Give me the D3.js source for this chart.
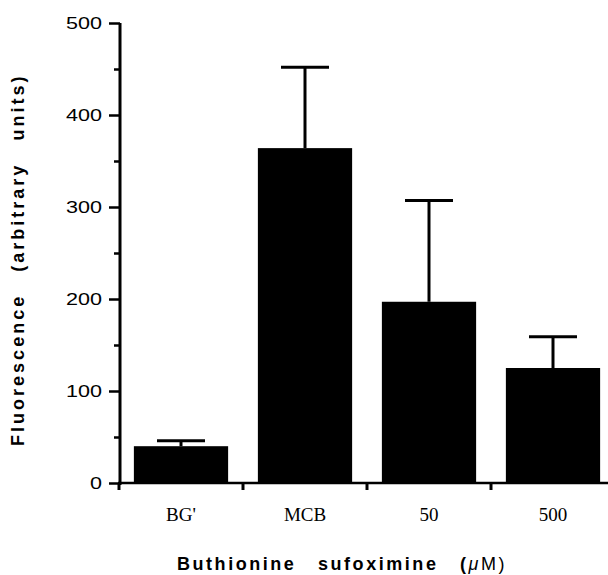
<!DOCTYPE html>
<html lang="en">
<head>
    <meta charset="UTF-8">
    <title>Fluorescence vs BSO</title>
    <style>
        body { margin: 0; background: #fff; }
        .ytick text { font-family: 'Liberation Sans', Arial, sans-serif; font-size: 17px; fill: #000; }
        .xtick text { font-family: 'Liberation Serif', 'Times New Roman', serif; font-size: 19px; fill: #000; }
        .title { font-family: 'Liberation Sans', Arial, sans-serif; font-weight: bold; font-size: 18px; fill: #000; word-spacing: 14px; letter-spacing: 0.5px; }
    </style>
</head>
<body>
<script src="https://d3js.org/d3.v7.min.js"></script>
<script>

    const width = 608;
    const height = 575;

    const categories = ['BG\'', 'MCB', '50', '500'];
    const means = [40, 364, 197, 125];
    const errors = [6, 88, 110, 34];
    const yTicks = [0, 100, 200, 300, 400, 500];
    const yMinor = [50, 150, 250, 350, 450];

    let svg = d3.select('body').append('svg')
        .attr('width', width)
        .attr('height', height);

    let x = d3.scaleBand()
        .domain(categories)
        .range([119, 615])
        .paddingInner(0.24)
        .paddingOuter(0.12);

    let y = d3.scaleLinear()
        .domain([0, 500])
        .range([483, 23]);

    // bars
    svg.selectAll('.bar')
        .data(categories)
        .enter().append('rect')
        .attr('class', 'bar')
        .attr('x', function(d) { return x(d); })
        .attr('y', function(d, i) { return y(means[i]); })
        .attr('width', x.bandwidth())
        .attr('height', function(d, i) { return y(0) - y(means[i]); })
        .style('fill', '#000');

    // error bars (upper only)
    let capW = 48;
    categories.forEach(function(c, i) {
        let cx = x(c) + x.bandwidth() / 2;
        svg.append('line')
            .attr('x1', cx).attr('x2', cx)
            .attr('y1', y(means[i])).attr('y2', y(means[i] + errors[i]))
            .style('stroke', '#000').style('stroke-width', 3);
        svg.append('line')
            .attr('x1', cx - capW / 2).attr('x2', cx + capW / 2)
            .attr('y1', y(means[i] + errors[i])).attr('y2', y(means[i] + errors[i]))
            .style('stroke', '#000').style('stroke-width', 3);
    });

    // y axis
    let yAxis = svg.append('g')
        .attr('class', 'ytick')
        .attr('transform', 'translate(120,0)')
        .call(d3.axisLeft(y).tickValues(yTicks).tickSize(11).tickPadding(7).tickFormat(d3.format('d')));
    yAxis.select('.domain').attr('d', 'M0,' + (y(500)) + 'V' + (y(0) + 2)).style('stroke-width', 3);
    yAxis.selectAll('.tick line').style('stroke-width', 2.5);
    yAxis.selectAll('.tick text')
        .attr('textLength', function(d) { return String(d).length * 12; })
        .attr('lengthAdjust', 'spacingAndGlyphs');

    svg.append('g')
        .attr('transform', 'translate(120,0)')
        .call(d3.axisLeft(y).tickValues(yMinor).tickSize(6).tickFormat(''))
        .call(function(g) { g.select('.domain').remove(); })
        .selectAll('.tick line').style('stroke-width', 2.5);

    // x axis
    let xAxis = svg.append('g')
        .attr('class', 'xtick')
        .attr('transform', 'translate(0,' + y(0) + ')');
    xAxis.append('line')
        .attr('x1', 118).attr('x2', width)
        .attr('y1', 0).attr('y2', 0)
        .style('stroke', '#000').style('stroke-width', 2.5);
    let bounds = categories.map(function(c) { return x(c) - x.step() * x.paddingInner() / 2; });
    bounds[0] = 119;
    xAxis.selectAll('.xt')
        .data(bounds)
        .enter().append('line')
        .attr('x1', function(d) { return d; }).attr('x2', function(d) { return d; })
        .attr('y1', 0).attr('y2', 7)
        .style('stroke', '#000').style('stroke-width', 3);
    xAxis.selectAll('.xl')
        .data(categories)
        .enter().append('text')
        .attr('x', function(d) { return x(d) + x.bandwidth() / 2; })
        .attr('y', 38)
        .attr('text-anchor', 'middle')
        .text(function(d) { return d; });

    // titles
    let xt = svg.append('text')
        .attr('class', 'title')
        .attr('x', 341)
        .attr('y', 570)
        .attr('text-anchor', 'middle')
        .attr('textLength', 328);
    xt.append('tspan').text('Buthionine  sufoximine  (');
    xt.append('tspan').style('font-style', 'italic').style('font-weight', 'normal').text('\u03bc');
    xt.append('tspan').style('font-weight', 'normal').text('M)');

    svg.append('text')
        .attr('class', 'title')
        .attr('transform', 'translate(24,261) rotate(-90)')
        .attr('text-anchor', 'middle')
        .attr('textLength', 370)
        .text('Fluorescence  (arbitrary  units)');

</script>
</body>
</html>
